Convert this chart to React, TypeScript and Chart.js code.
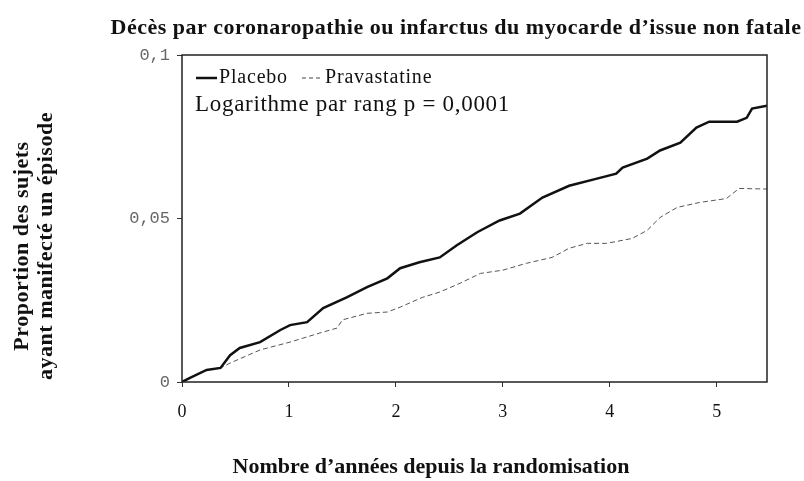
import React, { useEffect, useRef } from 'react';
import { Chart, registerables } from 'chart.js';

Chart.register(...registerables);

const titleText = 'Décès par coronaropathie ou infarctus du myocarde d\u2019issue non fatale';
const yTitleLines = ['Proportion des sujets', 'ayant manifecté un épisode'];
const xTitleText = 'Nombre d\u2019années depuis la randomisation';
const seriesNames = ['Placebo', 'Pravastatine'];
const statText = 'Logarithme par rang p = 0,0001';

const xTickValues = [0, 1, 2, 3, 4, 5];
const yTickValues = [0, 0.05, 0.1];
const yTickLabels = ['0', '0,05', '0,1'];

const placeboX = [0, 0.07, 0.23, 0.36, 0.45, 0.54, 0.73, 0.92, 1.01, 1.17, 1.32, 1.54, 1.73, 1.92, 2.04, 2.22, 2.41, 2.57, 2.76, 2.97, 3.16, 3.37, 3.62, 3.88, 4.06, 4.12, 4.35, 4.47, 4.66, 4.81, 4.93, 5.19, 5.28, 5.33, 5.47];
const placeboY = [0, 0.0012, 0.0037, 0.0043, 0.0082, 0.0104, 0.0122, 0.0159, 0.0174, 0.0183, 0.0226, 0.0259, 0.029, 0.0317, 0.0348, 0.0366, 0.0381, 0.0418, 0.0458, 0.0494, 0.0515, 0.0564, 0.06, 0.0622, 0.0637, 0.0656, 0.0683, 0.0708, 0.0732, 0.0778, 0.0796, 0.0796, 0.0808, 0.0836, 0.0845];

const pravaX = [0, 0.07, 0.23, 0.36, 0.45, 0.73, 1.01, 1.29, 1.45, 1.5, 1.73, 1.92, 2.04, 2.25, 2.41, 2.6, 2.79, 3.0, 3.22, 3.46, 3.62, 3.79, 3.97, 4.21, 4.35, 4.47, 4.63, 4.84, 5.09, 5.21, 5.47];
const pravaY = [0, 0.0012, 0.0037, 0.0043, 0.0058, 0.0098, 0.0122, 0.015, 0.0165, 0.019, 0.021, 0.0214, 0.0229, 0.0259, 0.0275, 0.0302, 0.0332, 0.0342, 0.0363, 0.0381, 0.0409, 0.0424, 0.0424, 0.0439, 0.0464, 0.0503, 0.0534, 0.0549, 0.0561, 0.0592, 0.059];

const X_MAX = 5.47;
const Y_MAX = 0.1;

const textPlugin = {
  id: 'textPlugin',
  afterDraw(chart: any) {
    const { ctx, chartArea } = chart;
    ctx.save();
    // frame
    ctx.strokeStyle = '#222';
    ctx.lineWidth = 1.5;
    ctx.strokeRect(chartArea.left, chartArea.top, chartArea.right - chartArea.left, chartArea.bottom - chartArea.top);

    ctx.fillStyle = '#111';
    ctx.textBaseline = 'middle';
    // title
    ctx.font = "bold 22px 'Liberation Serif'";
    ctx.textAlign = 'center';
    ctx.letterSpacing = '0.5px';
    ctx.fillText(titleText, 456, 28);
    // x title
    ctx.letterSpacing = '0px';
    ctx.fillText(xTitleText, 431, 467);
    // y title
    ctx.save();
    ctx.translate(0, 246);
    ctx.rotate(-Math.PI / 2);
    ctx.font = "bold 22px 'Liberation Serif'";
    ctx.letterSpacing = '0.5px';
    ctx.fillText(yTitleLines[0], 0, 22);
    ctx.fillText(yTitleLines[1], 0, 46);
    ctx.restore();

    // legend
    ctx.textAlign = 'left';
    ctx.font = "20px 'Liberation Serif'";
    ctx.letterSpacing = '0.8px';
    ctx.strokeStyle = '#111';
    ctx.lineWidth = 2.5;
    ctx.beginPath();
    ctx.moveTo(196, 78);
    ctx.lineTo(217, 78);
    ctx.stroke();
    ctx.fillText(seriesNames[0], 219, 78);
    ctx.lineWidth = 1;
    ctx.strokeStyle = '#444';
    ctx.setLineDash([4, 3]);
    ctx.beginPath();
    ctx.moveTo(302, 78);
    ctx.lineTo(323, 78);
    ctx.stroke();
    ctx.setLineDash([]);
    ctx.fillText(seriesNames[1], 325, 78);
    ctx.font = "23px 'Liberation Serif'";
    ctx.letterSpacing = '0.7px';
    ctx.fillText(statText, 195, 105);
    ctx.restore();
  },
};

export default function App() {
  const ref = useRef<HTMLCanvasElement | null>(null);
  useEffect(() => {
    if (!ref.current) return;
    const chart = new Chart(ref.current, {
      type: 'line',
      data: {
        datasets: [
          {
            label: seriesNames[0],
            data: placeboX.map((x, i) => ({ x, y: placeboY[i] })),
            borderColor: '#111',
            borderWidth: 2.5,
            pointRadius: 0,
            tension: 0,
          },
          {
            label: seriesNames[1],
            data: pravaX.map((x, i) => ({ x, y: pravaY[i] })),
            borderColor: '#555',
            borderWidth: 1,
            borderDash: [5, 3],
            pointRadius: 0,
            tension: 0,
          },
        ],
      },
      options: {
        animation: false,
        responsive: false,
        devicePixelRatio: 1,
        layout: { padding: { left: 0, top: 55, right: 37, bottom: 0 } },
        plugins: { legend: { display: false }, title: { display: false }, tooltip: { enabled: false } },
        scales: {
          x: {
            type: 'linear',
            min: 0,
            max: X_MAX,
            afterBuildTicks: (s: any) => { s.ticks = xTickValues.map((v) => ({ value: v })); },
            afterFit: (s: any) => { s.height = 99; },
            grid: { drawOnChartArea: false, drawTicks: true, tickLength: 5, color: '#333' },
            border: { display: false },
            ticks: {
              padding: 14,
              color: '#111',
              font: { family: 'Liberation Serif', size: 18 },
              callback: (v: any) => String(v),
            },
          },
          y: {
            type: 'linear',
            min: 0,
            max: Y_MAX,
            afterBuildTicks: (s: any) => { s.ticks = yTickValues.map((v) => ({ value: v })); },
            afterFit: (s: any) => { s.width = 182; },
            grid: { drawOnChartArea: false, drawTicks: true, tickLength: 5, color: '#333' },
            border: { display: false },
            ticks: {
              padding: 7,
              color: '#666',
              font: { family: 'Liberation Mono', size: 17 },
              callback: (v: any) => {
                const i = yTickValues.findIndex((t) => Math.abs(t - v) < 1e-9);
                return i >= 0 ? yTickLabels[i] : '';
              },
            },
          },
        },
      },
      plugins: [textPlugin],
    } as any);
    return () => chart.destroy();
  }, []);
  return (
    <div style={{ position: 'absolute', left: 0, top: 0, width: 804, height: 481, background: '#fff' }}>
      <canvas ref={ref} width={804} height={481} />
    </div>
  );
}
